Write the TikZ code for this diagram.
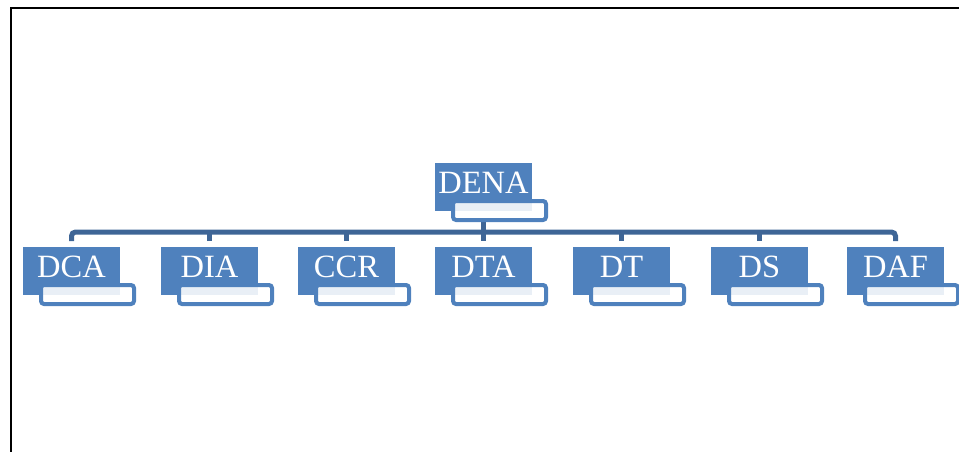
\documentclass[tikz,border=0pt]{standalone}
\usepackage{fontspec}
\setmainfont{Liberation Serif}
\usetikzlibrary{backgrounds}
\definecolor{boxblue}{RGB}{79,129,189}
\definecolor{linkblue}{RGB}{62,101,150}
\tikzset{
  unit/.style={fill=boxblue, text=white, anchor=north west, inner xsep=0pt,
    inner ysep=0pt, outer sep=0pt, minimum width=97pt, minimum height=48pt,
    text height=30pt, text depth=18pt,
    font=\fontsize{32.5}{38}\selectfont},
  tag/.style={draw=boxblue, line width=4pt, fill=white, fill opacity=0.88,
    draw opacity=1, rounded corners=3pt, anchor=north west, inner sep=0pt,
    outer sep=0pt, minimum width=93pt, minimum height=19pt},
  link/.style={draw=linkblue, line width=5pt, rounded corners=4pt},
  frame/.style={draw=black, line width=2.5pt}
}
\begin{document}
\begin{tikzpicture}[x=1pt, y=-1pt]
  \useasboundingbox (0,0) rectangle (959,452);
  \clip (0,0) rectangle (959,452);
  % outer frame (left and top edges)
  \draw[frame] (11,460) -- (11,8) -- (970,8);

  % unit boxes, each with its tab underneath
  \foreach \n/\x/\y/\t in {dena/435/163/DENA, dca/23/247/DCA, dia/161/247/DIA,
      ccr/298/247/CCR, dta/435/247/DTA, dt/573/247/DT, ds/711/247/DS,
      daf/847/247/DAF}{
    \node[unit] (\n) at (\x,\y) {\t};
    \node[tag] (\n-tag) at (\x+18,\y+38) {};
  }

  % connector hub on the horizontal bar
  \coordinate (hub) at (dena.south |- 0,232);

  % connectors, behind the boxes
  \begin{pgfonlayer}{background}
    \draw[link] ([yshift=6pt]dca.north) |- (hub) -| ([yshift=6pt]daf.north);
    \foreach \n in {dia,ccr,dt,ds}
      \draw[link] ([yshift=6pt]\n.north) -- (\n.north |- hub);
    \draw[link, rounded corners=0pt] (dena.south |- dena-tag.south)
      -- ([yshift=6pt]dta.north);
  \end{pgfonlayer}
\end{tikzpicture}
\end{document}
